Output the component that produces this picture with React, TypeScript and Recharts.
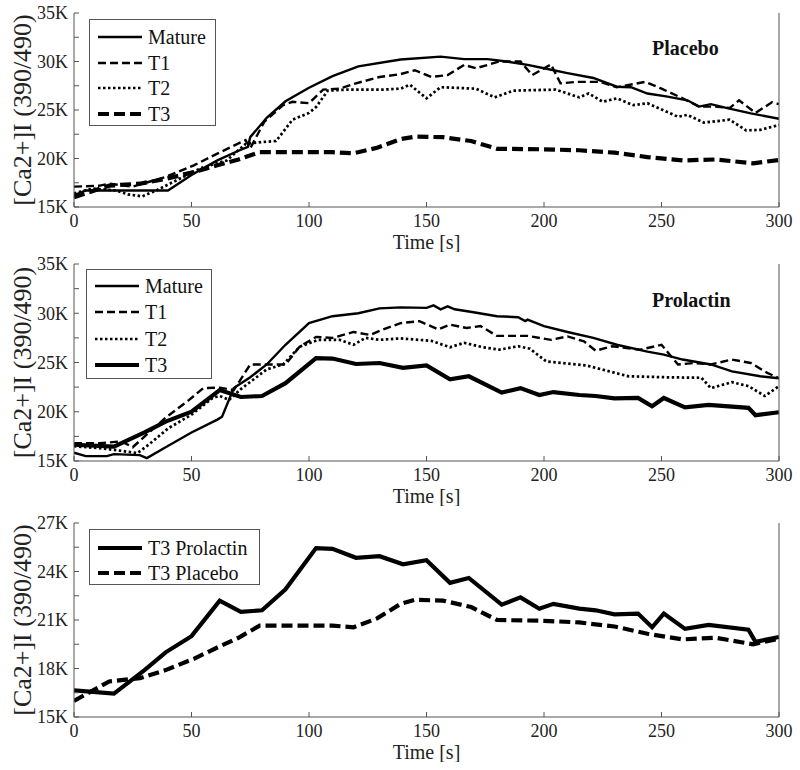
import React from 'react';
import { LineChart, Line, XAxis, YAxis, Legend } from 'recharts';

type Pt = [number, number];

const FONT = '"Liberation Serif", "Times New Roman", Times, serif';

// ---------- axis ticks ----------
const timeTicks = [0, 50, 100, 150, 200, 250, 300];
const yTicksWide = [15000, 17500, 20000, 22500, 25000, 27500, 30000, 32500, 35000];
const yTicksNarrow = [15000, 16500, 18000, 19500, 21000, 22500, 24000, 25500, 27000];

// ---------- Placebo ----------
const placeboMature: Pt[] = [
  [0, 16200], [5, 16700], [40, 16700], [50, 18300], [61, 19800], [70, 20800], [74, 21200], [75, 22200],
  [82, 24200], [90, 25900], [100, 27300], [110, 28500], [121, 29500], [139, 30200], [156, 30500],
  [166, 30250], [176, 30250], [184, 30000], [193, 29650], [200, 29300], [210, 28800], [221, 28300],
  [231, 27400], [237, 27350], [244, 26700], [252, 26400], [261, 26000], [266, 25350], [271, 25600],
  [278, 25200], [288, 24650], [300, 24100],
];
const placeboT1: Pt[] = [
  [0, 17100], [11, 17200], [15, 17400], [25, 17100], [39, 18100], [51, 19300], [61, 20500], [73, 21900],
  [75, 21050], [81, 23800], [89, 25500], [93, 25850], [100, 25700], [106, 27100], [113, 27200],
  [120, 27750], [130, 28400], [139, 28700], [145, 29100], [152, 28400], [159, 28600], [166, 29650],
  [171, 29300], [181, 30000], [190, 30000], [195, 28600], [203, 29700], [207, 27750], [214, 27900],
  [224, 27900], [231, 27350], [243, 27900], [250, 27200], [259, 26200], [266, 25350], [273, 25350],
  [279, 25200], [283, 26000], [290, 24700], [297, 25800], [300, 25600],
];
const placeboT2: Pt[] = [
  [0, 16400], [8, 16900], [18, 16700], [23, 16300], [29, 16100], [35, 16700], [44, 17800], [54, 19000],
  [65, 19800], [73, 21500], [80, 21700], [86, 21800], [93, 24000], [100, 24700], [103, 25300],
  [108, 27000], [116, 27100], [131, 27100], [139, 27200], [143, 27600], [150, 26200], [156, 27350],
  [171, 27200], [179, 26300], [187, 27000], [205, 27100], [215, 26300], [219, 26700], [225, 25850],
  [231, 26200], [238, 25500], [244, 25700], [257, 24300], [261, 24500], [268, 23700], [279, 24000],
  [286, 22900], [292, 22950], [300, 23450],
];
const placeboT3: Pt[] = [
  [0, 16000], [15, 17200], [28, 17400], [39, 17900], [51, 18600], [61, 19300], [70, 19900], [79, 20650],
  [110, 20650], [119, 20550], [129, 21100], [139, 22000], [145, 22250], [157, 22200], [169, 21800],
  [180, 21000], [200, 20950], [215, 20850], [230, 20600], [244, 20150], [259, 19800], [273, 19900],
  [289, 19500], [300, 19850],
];

// ---------- Prolactin ----------
const prolactinMature: Pt[] = [
  [0, 15850], [5, 15500], [14, 15500], [17, 15700], [28, 15600], [31, 15300], [39, 16400], [50, 17900],
  [61, 19200], [63, 19500], [68, 22400], [75, 23500], [82, 24800], [90, 26800], [100, 29000],
  [110, 29700], [121, 30000], [130, 30500], [139, 30600], [150, 30550], [153, 30800], [156, 30400],
  [159, 30700], [162, 30400], [170, 30100], [180, 29700], [189, 29600], [192, 29200], [193, 29350],
  [200, 28700], [210, 28100], [221, 27500], [231, 26800], [244, 26100], [251, 25800], [259, 25300],
  [271, 24800], [280, 24100], [292, 23600], [300, 23400],
];
const prolactinT1: Pt[] = [
  [0, 16800], [11, 16800], [20, 17000], [25, 16400], [31, 17700], [39, 19400], [49, 21200], [55, 22400],
  [62, 22450], [68, 22200], [75, 24800], [83, 24800], [90, 24800], [96, 26600], [103, 27600],
  [110, 27500], [119, 28100], [126, 27800], [131, 28300], [139, 29000], [147, 29200], [155, 28350],
  [160, 28850], [167, 28500], [173, 28700], [180, 27700], [193, 27700], [203, 27300], [210, 27650],
  [217, 27150], [222, 26200], [229, 26650], [241, 26300], [250, 26800], [257, 24800], [264, 24950],
  [271, 24800], [280, 25300], [288, 24950], [295, 23950], [300, 23400],
];
const prolactinT2: Pt[] = [
  [0, 16500], [11, 16300], [18, 16100], [27, 15800], [32, 16700], [40, 18300], [50, 19700], [59, 21400],
  [62, 21600], [66, 21200], [71, 22300], [82, 24300], [89, 24800], [96, 26600], [104, 27300],
  [113, 27300], [119, 26800], [124, 27500], [130, 27300], [139, 27450], [152, 27200], [160, 26550],
  [166, 27000], [174, 26550], [181, 26300], [189, 26650], [194, 26400], [201, 25100], [218, 24700],
  [236, 23600], [252, 23500], [267, 23450], [271, 22400], [280, 23000], [287, 22600], [294, 21600],
  [300, 22600],
];
const prolactinT3: Pt[] = [
  [0, 16650], [17, 16450], [30, 17900], [39, 19000], [50, 20000], [62, 22200], [71, 21500], [80, 21600],
  [90, 22900], [103, 25450], [110, 25400], [120, 24850], [130, 24950], [140, 24450], [150, 24700],
  [160, 23300], [168, 23600], [182, 21950], [190, 22400], [198, 21700], [204, 22000], [215, 21700],
  [222, 21600], [230, 21350], [240, 21400], [246, 20550], [251, 21400], [260, 20450], [270, 20700],
  [287, 20400], [290, 19650], [300, 19950],
];

// ---------- styles ----------
type Series = { name: string; pts: Pt[]; width: number; dash?: string };

const thin = 2.4;
const thick = 4.2;

const placeboSeries: Series[] = [
  { name: 'Mature', pts: placeboMature, width: thin },
  { name: 'T1', pts: placeboT1, width: thin, dash: '8 4' },
  { name: 'T2', pts: placeboT2, width: 2.7, dash: '2.5 2.5' },
  { name: 'T3', pts: placeboT3, width: thick, dash: '11 5' },
];
const prolactinSeries: Series[] = [
  { name: 'Mature', pts: prolactinMature, width: thin },
  { name: 'T1', pts: prolactinT1, width: thin, dash: '8 4' },
  { name: 'T2', pts: prolactinT2, width: 2.7, dash: '2.5 2.5' },
  { name: 'T3', pts: prolactinT3, width: thick },
];
const compareSeries: Series[] = [
  { name: 'T3 Prolactin', pts: prolactinT3, width: thick },
  { name: 'T3 Placebo', pts: placeboT3, width: thick, dash: '11 5' },
];

const AXIS = '#555';
const TICK = 5;

function LegendBox({ series, box, rowH, padTop }: { series: Series[]; box: any; rowH: number; padTop: number }) {
  return (
    <div
      style={{
        border: `1px solid ${AXIS}`,
        background: '#fff',
        boxSizing: 'border-box',
        width: box.w,
        height: box.h,
        paddingTop: padTop,
        fontFamily: FONT,
        fontSize: 20,
        color: '#111',
      }}
    >
      {series.map((s) => (
        <div key={s.name} style={{ display: 'flex', alignItems: 'center', height: rowH }}>
          <svg width={50} height={10} style={{ marginLeft: 8, display: 'block' }}>
            <line x1={0} x2={44} y1={5} y2={5} stroke="#000" strokeWidth={s.width} strokeDasharray={s.dash} />
          </svg>
          <span style={{ lineHeight: 1, whiteSpace: 'nowrap' }}>{s.name}</span>
        </div>
      ))}
    </div>
  );
}

function Panel(props: {
  series: Series[];
  top: number;
  mt: number;
  plotH: number;
  yDomain: [number, number];
  yTicks: number[];
  labelStep: number;
  legend: { x: number; y: number; w: number; h: number; rowH: number; padTop: number };
  title?: string;
  titleTop?: number;
}) {
  const { series, top, mt, plotH, yDomain, yTicks, labelStep, legend, title, titleTop } = props;
  const xAxisH = 45;
  const H = mt + plotH + xAxisH;
  const fmtY = (v: number) => (v % labelStep === 0 ? `${v / 1000}K` : '');
  return (
    <div style={{ position: 'absolute', left: 0, top, width: 800, height: H }}>
      <LineChart width={800} height={H} margin={{ top: mt, right: 0, bottom: 0, left: 0 }}>
        <XAxis
          xAxisId="bottom"
          dataKey="t"
          type="number"
          domain={[0, 300]}
          ticks={timeTicks}
          interval={0}
          allowDataOverflow
          height={xAxisH}
          stroke={AXIS}
          tickSize={-TICK}
          tickMargin={12}
          tick={{ fill: '#222', fontSize: 18, fontFamily: FONT }}
          label={{
            content: (p: any) => {
              const vb = p.viewBox;
              return (
                <text x={vb.x + vb.width / 2} y={vb.y + 42} textAnchor="middle" fill="#222" fontSize={20} fontFamily={FONT}>
                  Time [s]
                </text>
              );
            },
          }}
        />
        <XAxis
          xAxisId="top"
          orientation="top"
          type="number"
          dataKey="t"
          domain={[0, 300]}
          ticks={timeTicks}
          interval={0}
          height={0}
          stroke={AXIS}
          tickSize={-TICK}
          tickFormatter={() => ''}
        />
        <YAxis
          yAxisId="left"
          type="number"
          dataKey="v"
          domain={yDomain}
          ticks={yTicks}
          interval={0}
          allowDataOverflow
          width={74}
          stroke={AXIS}
          tickSize={-TICK}
          tickMargin={11}
          tickFormatter={fmtY}
          tick={{ fill: '#222', fontSize: 18, fontFamily: FONT }}
          label={{
            content: (p: any) => {
              const vb = p.viewBox;
              const cx = 22;
              const cy = vb.y + vb.height / 2;
              return (
                <text
                  x={cx}
                  y={cy}
                  transform={`rotate(-90 ${cx} ${cy})`}
                  textAnchor="middle"
                  dominantBaseline="central"
                  fill="#222"
                  fontSize={26}
                  fontFamily={FONT}
                >
                  [Ca2+]I (390/490)
                </text>
              );
            },
          }}
        />
        <YAxis
          yAxisId="right"
          orientation="right"
          type="number"
          domain={yDomain}
          ticks={yTicks}
          interval={0}
          width={21}
          stroke={AXIS}
          tickSize={-TICK}
          tickFormatter={() => ''}
        />
        {series.map((s) => (
          <Line
            key={s.name}
            xAxisId="bottom"
            yAxisId="left"
            data={s.pts.map(([t, v]) => ({ t, v }))}
            dataKey="v"
            name={s.name}
            type="linear"
            stroke="#000"
            strokeWidth={s.width}
            strokeDasharray={s.dash}
            dot={false}
            activeDot={false}
            isAnimationActive={false}
          />
        ))}
        <Legend
          layout="vertical"
          align="center"
          verticalAlign="middle"
          wrapperStyle={{ position: 'absolute', left: legend.x, top: legend.y, width: legend.w, height: legend.h }}
          content={() => (
            <LegendBox series={series} box={{ w: legend.w, h: legend.h }} rowH={legend.rowH} padTop={legend.padTop} />
          )}
        />
      </LineChart>
      {title && (
        <div
          style={{
            position: 'absolute',
            left: 652,
            top: titleTop,
            fontFamily: FONT,
            fontWeight: 'bold',
            fontSize: 20,
            lineHeight: '20px',
            color: '#111',
          }}
        >
          {title}
        </div>
      )}
    </div>
  );
}

export default function App() {
  return (
    <div style={{ position: 'absolute', left: 0, top: 0, width: 800, height: 770, background: '#fff' }}>
      <Panel
        series={placeboSeries}
        top={0}
        mt={13}
        plotH={194}
        yDomain={[15000, 35000]}
        yTicks={yTicksWide}
        labelStep={5000}
        legend={{ x: 89, y: 19, w: 127, h: 107, rowH: 25.7, padTop: 4 }}
        title="Placebo"
        titleTop={38}
      />
      <Panel
        series={prolactinSeries}
        top={255}
        mt={9}
        plotH={197}
        yDomain={[15000, 35000]}
        yTicks={yTicksWide}
        labelStep={5000}
        legend={{ x: 86, y: 14, w: 126, h: 110, rowH: 26.3, padTop: 3 }}
        title="Prolactin"
        titleTop={35}
      />
      <Panel
        series={compareSeries}
        top={510}
        mt={13}
        plotH={194}
        yDomain={[15000, 27000]}
        yTicks={yTicksNarrow}
        labelStep={3000}
        legend={{ x: 89, y: 19, w: 171, h: 56, rowH: 25, padTop: 5 }}
      />
    </div>
  );
}
